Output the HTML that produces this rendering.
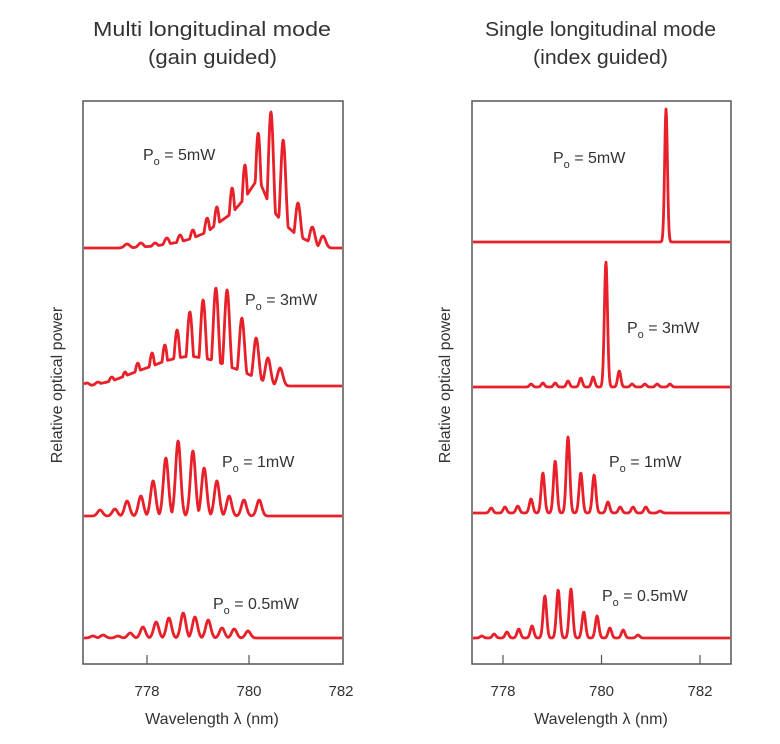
<!DOCTYPE html>
<html><head><meta charset="utf-8">
<style>
html,body{margin:0;padding:0;background:#fff;}
svg{display:block;}
text{font-family:"Liberation Sans",sans-serif;fill:#333;}
.title{font-family:"Liberation Sans Narrow","Liberation Sans",sans-serif;font-size:20px;}
.lab{font-family:"Liberation Sans Narrow","Liberation Sans",sans-serif;font-size:16px;}
.tick{font-size:15px;}
.axt{font-size:16px;}
</style></head>
<body>
<svg id="chart" width="780" height="744" viewBox="0 0 780 744">
<text class="title" x="93" y="36" textLength="238" lengthAdjust="spacingAndGlyphs">Multi longitudinal mode</text>
<text class="title" x="148" y="64" textLength="129" lengthAdjust="spacingAndGlyphs">(gain guided)</text>
<text class="title" x="485" y="36" textLength="231" lengthAdjust="spacingAndGlyphs">Single longitudinal mode</text>
<text class="title" x="533" y="64" textLength="135" lengthAdjust="spacingAndGlyphs">(index guided)</text>
<rect x="83" y="101" width="260" height="563" fill="none" stroke="#555" stroke-width="1.5"/>
<rect x="472" y="101" width="259" height="563" fill="none" stroke="#555" stroke-width="1.5"/>
<text class="axt" transform="translate(62,385) rotate(-90)" text-anchor="middle">Relative optical power</text>
<text class="axt" transform="translate(450,385) rotate(-90)" text-anchor="middle">Relative optical power</text>
<text class="axt" x="212" y="724" text-anchor="middle">Wavelength λ (nm)</text>
<text class="axt" x="601" y="724" text-anchor="middle">Wavelength λ (nm)</text>
<g id="marks"></g>
</svg>
<script>
// ---- data ----
const leftTicks = [778, 780, 782];
const rightTicks = [778, 780, 782];
const powerLabels = ["5mW", "3mW", "1mW", "0.5mW"];

const l5Lam = [777.61,777.88,778.16,778.39,778.65,778.90,779.18,779.37,779.67,779.92,780.18,780.43,780.67,780.96,781.24,781.45];
const l5Pk  = [4,5,5,10,13,18,30,41,60,83,115,136,108,45,21,12];
const l5Val = [0,1,2,4,6,10,16,24,35,50,70,40,25,12,5,0];

const l3Lam = [776.82,777.04,777.31,777.57,777.82,778.10,778.35,778.59,778.84,779.10,779.35,779.57,779.86,780.14,780.37,780.61];
const l3Pk  = [3,4,9,14,23,33,41,56,74,86,98,96,68,48,28,18];
const l3Val = [0,2,5,10,15,20,25,28,30,28,25,20,15,8,4,0];

const l1Lam = [777.08,777.37,777.61,777.88,778.12,778.37,778.61,778.90,779.12,779.37,779.61,779.90,780.20];
const l1Pk  = [6,7,15,20,35,58,75,65,48,35,20,16,16];

const l05Lam = [776.94,777.14,777.43,777.67,777.92,778.18,778.43,778.71,778.94,779.20,779.47,779.71,779.98];
const l05Pk  = [2,3,2,5,11,16,20,25,21,18,10,9,7];

const r5Lam = [781.31];
const r5Pk  = [133];

const r3Lam = [778.57,778.81,779.06,779.32,779.58,779.83,780.09,780.36,780.62,780.88,781.13,781.39];
const r3Pk  = [3,4,4,6,9,10,125,16,3,3,3,3];

const r1Lam = [777.76,778.04,778.30,778.57,778.81,779.06,779.32,779.58,779.85,780.13,780.38,780.64,780.90,781.19];
const r1Pk  = [5,6,7,14,40,52,76,40,38,11,6,6,6,2];

const r05Lam = [777.57,777.82,778.08,778.32,778.59,778.85,779.12,779.38,779.64,779.91,780.17,780.44,780.74];
const r05Pk  = [2,4,6,9,12,42,48,49,26,22,10,8,3];

// ---- axes ----
const LX0 = 83, LX1 = 343, RX0 = 472, RX1 = 731, BOT = 664;
function xLeft(l){ return 147 + (l - 778) * 51; }
function xRight(l){ return 503 + (l - 778) * 49.25; }
function yOf(base, v){ return base - v; }

const NS = "http://www.w3.org/2000/svg";
const g = document.getElementById('marks');

function profile(lam, lams, pks, vals, sig){
  let v = 0;
  for (let i = 0; i < lams.length; i++){
    const d = (lam - lams[i]) / sig;
    v = Math.max(v, pks[i] * Math.exp(-d * d));
  }
  if (vals){
    let f = 0;
    for (let i = 0; i < lams.length - 1; i++){
      if (lam >= lams[i] && lam <= lams[i+1]){
        const t = (lam - lams[i]) / (lams[i+1] - lams[i]);
        f = vals[i] + (vals[i+1] - vals[i]) * t;
      }
    }
    v = Math.max(v, f);
  }
  return v;
}

function drawTrace(name, xf, x0, x1, base, lams, pks, vals, sig){
  let d = "";
  for (let px = x0 + 1; px <= x1 - 1; px += 0.5){
    let lo = 770, hi = 790;
    for (let k = 0; k < 30; k++){ const m = (lo + hi) / 2; if (xf(m) < px) lo = m; else hi = m; }
    const lam = (lo + hi) / 2;
    const v = profile(lam, lams, pks, vals, sig);
    d += (d ? "L" : "M") + px.toFixed(1) + " " + yOf(base, v).toFixed(1);
  }
  const p = document.createElementNS(NS, 'path');
  p.setAttribute('d', d);
  p.setAttribute('fill', 'none');
  p.setAttribute('stroke', '#e8202a');
  p.setAttribute('stroke-width', '2.8');
  p.setAttribute('stroke-linejoin', 'round');
  
  
  g.appendChild(p);
}

drawTrace('left-spectrum-5mw', xLeft, LX0, LX1, 248, l5Lam, l5Pk, l5Val, 0.075);
drawTrace('left-spectrum-3mw', xLeft, LX0, LX1, 386, l3Lam, l3Pk, l3Val, 0.075);
drawTrace('left-spectrum-1mw', xLeft, LX0, LX1, 516, l1Lam, l1Pk, null, 0.07);
drawTrace('left-spectrum-0-5mw', xLeft, LX0, LX1, 638, l05Lam, l05Pk, null, 0.07);
drawTrace('right-spectrum-5mw', xRight, RX0, RX1, 242, r5Lam, r5Pk, null, 0.04);
drawTrace('right-spectrum-3mw', xRight, RX0, RX1, 387, r3Lam, r3Pk, null, 0.045);
drawTrace('right-spectrum-1mw', xRight, RX0, RX1, 513, r1Lam, r1Pk, null, 0.05);
drawTrace('right-spectrum-0-5mw', xRight, RX0, RX1, 638, r05Lam, r05Pk, null, 0.05);

function ticks(arr, xf, x0, x1, side){
  arr.forEach(t => {
    const x = xf(t);
    if (x > x0 + 2 && x < x1 - 2){
      const ln = document.createElementNS(NS, 'line');
      ln.setAttribute('x1', x); ln.setAttribute('x2', x);
      ln.setAttribute('y1', BOT); ln.setAttribute('y2', BOT - 9);
      ln.setAttribute('stroke', '#555'); ln.setAttribute('stroke-width', '1.2');
      
      
      g.appendChild(ln);
    }
    const tx = document.createElementNS(NS, 'text');
    tx.setAttribute('x', Math.min(x, x1 - 2)); tx.setAttribute('y', 696);
    tx.setAttribute('text-anchor', 'middle'); tx.setAttribute('class', 'tick');
    tx.textContent = t;
    
    
    g.appendChild(tx);
  });
}
ticks(leftTicks, xLeft, LX0, LX1, 'left');
ticks(rightTicks, xRight, RX0, RX1, 'right');

const labelPos = [
  ['left',143,160],['left',245,305],['left',222,467],['left',213,609],
  ['right',553,163],['right',627,333],['right',609,467],['right',602,601]
];
labelPos.forEach((lp, i) => {
  const t = document.createElementNS(NS, 'text');
  t.setAttribute('x', lp[1]); t.setAttribute('y', lp[2]);
  t.setAttribute('class', 'lab');
  const pw = powerLabels[i % 4];
  t.innerHTML = 'P<tspan dy="5" font-size="11">o</tspan><tspan dy="-5"> = ' + pw + '</tspan>';
  
  
  g.appendChild(t);
});
</script>
</body></html>
